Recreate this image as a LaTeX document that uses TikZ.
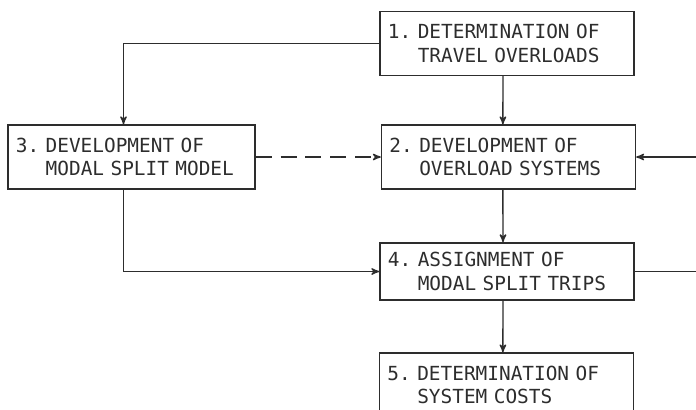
\documentclass[tikz,border=0pt]{standalone}
\usepackage{fontspec}
\setmonofont{DejaVu Sans Mono}
\usetikzlibrary{arrows}
\definecolor{ink_gray}{RGB}{45,45,45}

\begin{document}
\begin{tikzpicture}[->,>=stealth',line width=1pt,x=0.025cm,y=-0.025cm]
    \tikzstyle{box}=[draw=ink_gray, rectangle, text=ink_gray, align=left, text width=5.95cm,
      inner xsep=0.2cm, minimum height=1.6cm, font=\ttfamily\fontsize{13.8}{16.5}\selectfont]
    \clip (0,0) rectangle (696,409);

    \node[box] (over)   at (507,43.5)  {1.~DETERMINATION OF\\\phantom{1.~}TRAVEL OVERLOADS};
    \node[box] (system) at (508.5,157) {2.~DEVELOPMENT OF\\\phantom{2.~}OVERLOAD SYSTEMS};
    \node[box, text width=5.78cm] (modal) at (131.5,157) {3.~DEVELOPMENT OF\\\phantom{3.~}MODAL SPLIT MODEL};
    \node[box, minimum height=1.43cm] (assign) at (507,271.5) {4.~ASSIGNMENT OF\\\phantom{4.~}MODAL SPLIT TRIPS};
    \node[box] (cost)   at (506.5,385) {5.~DETERMINATION OF\\\phantom{5.~}SYSTEM COSTS};

    \path
     ([xshift=-0.1cm]over.south) edge[ink_gray] ([xshift=-0.14cm]system.north)
     ([xshift=-0.14cm]system.south) edge[ink_gray] ([xshift=-0.1cm]assign.north)
     ([xshift=-0.1cm]assign.south) edge[ink_gray] ([xshift=-0.09cm]cost.north)
     (modal) edge[ink_gray, dashed, dash pattern=on 0.4cm off 0.22cm] (system)
     ;
    \draw[ink_gray] (over.west) -| ([xshift=-0.2cm]modal.north);
    \draw[ink_gray] ([xshift=-0.2cm]modal.south) |- (assign.west);
    \draw[ink_gray] (assign.east) -- ++(80,0) |- (system.east);
\end{tikzpicture}
\end{document}
